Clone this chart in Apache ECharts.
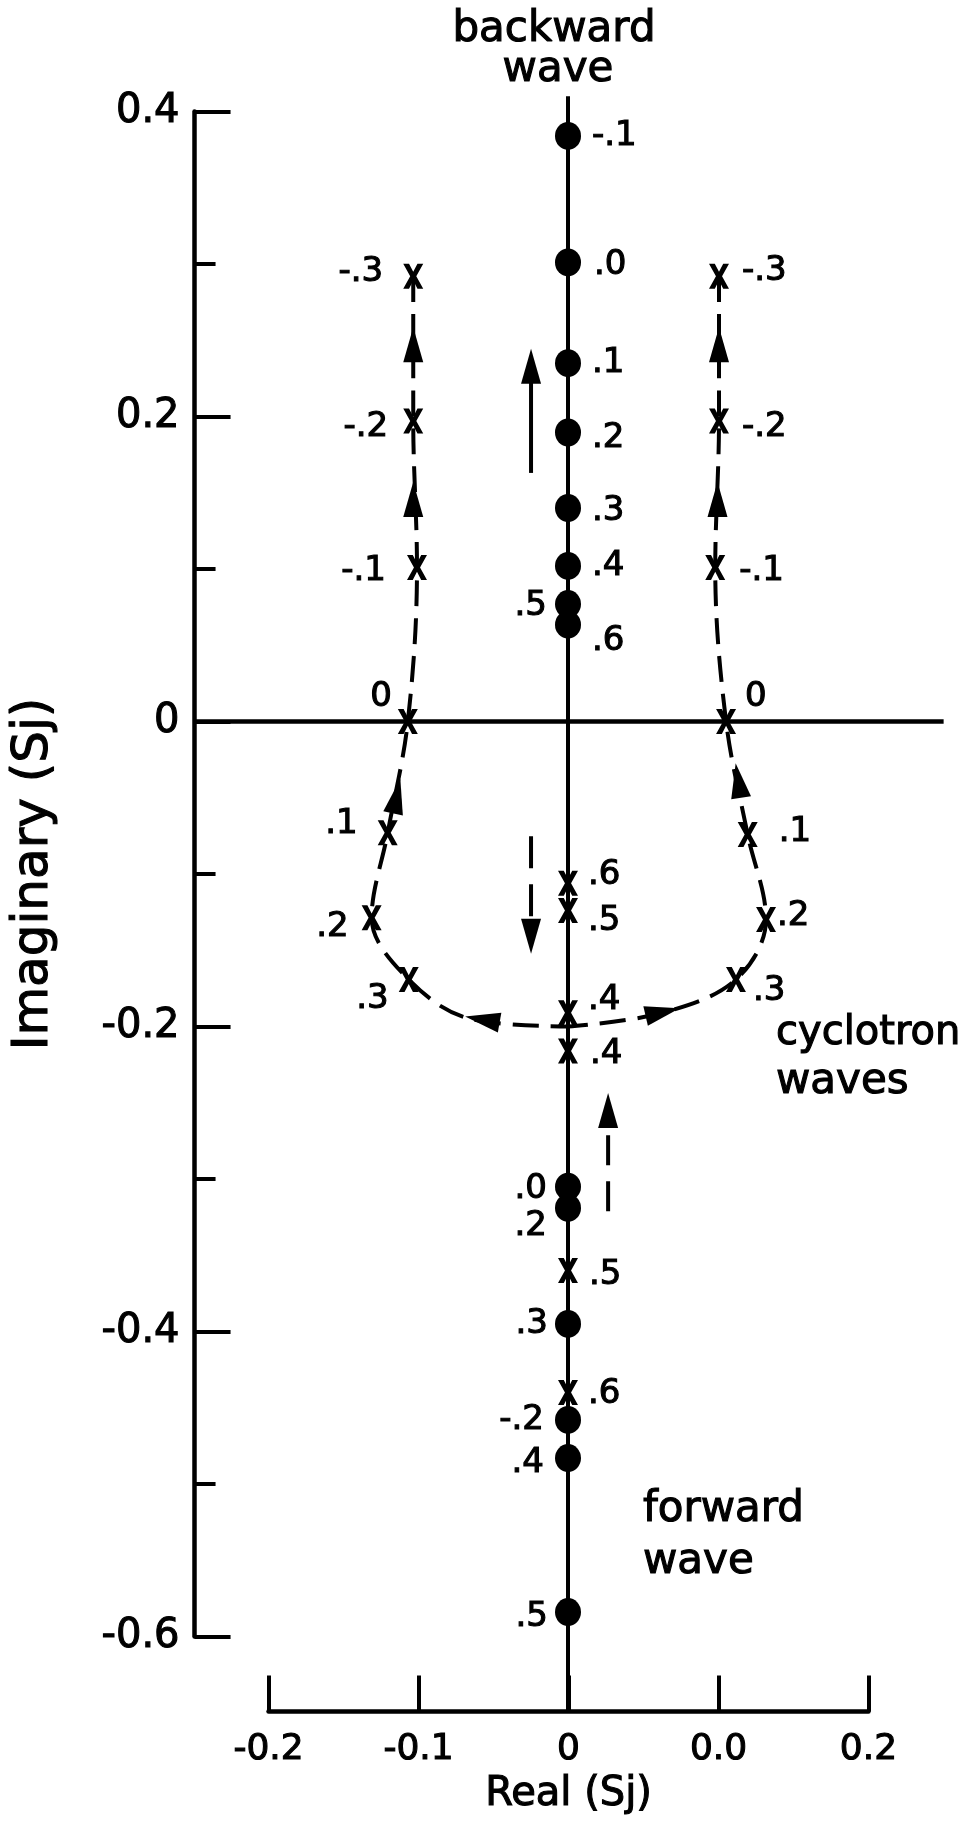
<!DOCTYPE html>
<html>
<head>
<meta charset="utf-8">
<title>Root loci: backward, forward and cyclotron waves</title>
<script src="https://cdn.jsdelivr.net/npm/echarts@6/dist/echarts.min.js"></script>
<style>
html, body { margin: 0; padding: 0; background: #fff; }
#main { width: 966px; height: 1821px; }
</style>
</head>
<body>
<div id="main"></div>
<script>
// tick labels as printed on the figure
const xTickLabels = ['-0.2', '-0.1', '0', '0.0', '0.2'];
const yTickLabels = ['-0.6', '-0.4', '-0.2', '0', '0.2', '0.4'];

// backward wave roots (dots on the imaginary axis)
const backY = [0.384, 0.301, 0.235, 0.1895, 0.140, 0.102, 0.077, 0.0635];
const backText = ['-.1', '.0', '.1', '.2', '.3', '.4', '.5', '.6'];

// forward wave roots (dots)
const fwdY = [-0.305, -0.319, -0.395, -0.458, -0.483, -0.584];
const fwdText = ['.0', '.2', '.3', '-.2', '.4', '.5'];

// cyclotron roots lying on the imaginary axis (x marks)
const axisCrossY = [-0.106, -0.124, -0.191, -0.216, -0.360, -0.440];
const axisCrossText = ['.6', '.5', '.4', '.4', '.5', '.6'];

// cyclotron roots, left branch
const leftX = [-0.103, -0.103, -0.1005, -0.1066, -0.120, -0.1307, -0.106];
const leftY = [0.292, 0.197, 0.101, 0, -0.073, -0.1287, -0.1692];
const leftText = ['-.3', '-.2', '-.1', '0', '.1', '.2', '.3'];
// where the left branch runs into the axis
const leftTailX = [-0.065, 0];
const leftTailY = [-0.195, -0.2];

// cyclotron roots, right branch
const rightX = [0.1005, 0.1005, 0.098, 0.1052, 0.1196, 0.1318, 0.1118];
const rightY = [0.292, 0.197, 0.101, 0, -0.0741, -0.1298, -0.1692];
const rightText = ['-.3', '-.2', '-.1', '0', '.1', '.2', '.3'];
const rightTailX = [0.063, 0];
const rightTailY = [-0.191, -0.2];

// arrowheads along the dashed branches
const leftHeadX = [-0.103, -0.103, -0.114, -0.057];
const leftHeadY = [0.247, 0.1455, -0.049, -0.1955];
const rightHeadX = [0.1005, 0.0995, 0.1134, 0.063];
const rightHeadY = [0.247, 0.1455, -0.0387, -0.1906];

// free arrows beside the axis: [x, tail y, head y]
const upArrow = [-0.0246, 0.163, 0.233];
const downArrow = [-0.0246, -0.0752, -0.1408];
const upArrow2 = [0.0267, -0.3211, -0.2551];

// reference lines
const zeroLineX = [-0.249, 0.25];
const imagAxisY = [0.41, -0.649];

// ---- layout and styling (not data) ----
const ink = '#000';
const font = 'DejaVu Sans';
const crossPath = 'path://M0,0 L5.5,0 L9.5,7.5 L13.5,0 L19,0 L12.4,11.5 L19,23 L13.5,23 L9.5,15.5 L5.5,23 L0,23 L6.6,11.5 Z';
// thicken the strokes of the lettering a little
const heavy = { textBorderColor: ink, textBorderWidth: 1.1 };

// pixel scale of the figure: x = 0 at 568 px, y = 0 at 721.5 px
const X0 = 568, Y0 = 721.5, PX_X = 1502.5, PX_Y = 1525, W = 966, H = 1821;
function gridFor(xmin, xmax, ymin, ymax) {
  return {
    left: X0 + xmin * PX_X,
    right: W - (X0 + xmax * PX_X),
    top: Y0 - ymax * PX_Y,
    bottom: H - (Y0 - ymin * PX_Y)
  };
}
const DATA_X = [-0.26, 0.26], DATA_Y = [-0.66, 0.42];

// label placement: [side, distance, dy]
const backPlace = [['right',11,0],['right',13,3],['right',11,0],['right',11,6],['right',11,3],['right',11,0],['left',8,2],['right',11,17]];
const fwdPlace = [['left',8,3],['left',8,18],['left',7,0],['left',11,0],['left',11,5],['left',7,5]];
const axisCrossPlace = [['right',10,-8],['right',10,11],['right',10,-13],['right',12,3],['right',11,5],['right',10,2]];
const leftPlace = [['left',20,-4],['left',15,6],['left',21,4],['left',6,-24],['left',20,-9],['left',13,9],['left',10,20]];
const rightPlace = [['right',13,-5],['right',13,6],['right',14,4],['right',9,-24],['right',21,-2],['right',1,-3],['right',7,12]];
const leftHeadRot = [0, 0, -12, 80];
const rightHeadRot = [0, 0, 9, -77];

function pairs(xs, ys) { return xs.map((x, i) => [x, ys[i]]); }

function labelled(points, texts, place) {
  return points.map((p, i) => ({
    value: p,
    label: {
      show: true,
      formatter: texts[i],
      position: place[i][0],
      distance: 0,
      offset: [place[i][0] === 'left' ? -place[i][1] : place[i][1], place[i][2]]
    }
  }));
}

const pointLabel = { show: true, fontSize: 34, fontFamily: font, color: ink, opacity: 1, ...heavy };
const solid = { color: ink, opacity: 1 };

const leftCurve = pairs(leftX, leftY).concat(pairs(leftTailX, leftTailY));
const rightCurve = pairs(rightX, rightY).concat(pairs(rightTailX, rightTailY));

const heads = pairs(leftHeadX, leftHeadY).map((p, i) => ({ value: p, symbolRotate: leftHeadRot[i] }))
  .concat(pairs(rightHeadX, rightHeadY).map((p, i) => ({ value: p, symbolRotate: rightHeadRot[i] })));

function shaft(a) { return [[a[0], a[1]], [a[0], a[2]]]; }

function note(text, x, y, size, align) {
  return { type: 'text', x: x, y: y, style: { text: text, fontSize: size, fontFamily: font, fill: ink,
    stroke: ink, lineWidth: 1.1, align: align, verticalAlign: 'middle' } };
}

const onData = { xAxisIndex: 1, yAxisIndex: 1 };
const hiddenAxis = { show: false };

const chart = echarts.init(document.getElementById('main'), null, { renderer: 'canvas' });

chart.setOption({
  animation: false,
  backgroundColor: '#fff',
  grid: [
    gridFor(-0.2, 0.2, -0.6, 0.4),
    gridFor(DATA_X[0], DATA_X[1], DATA_Y[0], DATA_Y[1])
  ],
  xAxis: [{
    gridIndex: 0, type: 'value', min: -0.2, max: 0.2, interval: 0.1, offset: 75,
    axisLine: { onZero: false, lineStyle: { color: ink, width: 4.5 } },
    axisTick: { inside: true, length: 36, lineStyle: { color: ink, width: 4 } },
    splitLine: { show: false },
    axisLabel: {
      margin: 20, fontSize: 36, fontFamily: font, color: ink, ...heavy,
      formatter: v => xTickLabels[Math.round((v + 0.2) / 0.1)]
    },
    name: 'Real (Sj)', nameLocation: 'middle', nameGap: 63,
    nameTextStyle: { fontSize: 40, fontFamily: font, color: ink, ...heavy }
  }, {
    gridIndex: 1, type: 'value', min: DATA_X[0], max: DATA_X[1], ...hiddenAxis
  }],
  yAxis: [{
    gridIndex: 0, type: 'value', min: -0.6, max: 0.4, interval: 0.2, offset: 74,
    axisLine: { show: true, onZero: false, lineStyle: { color: ink, width: 4.5 } },
    axisTick: { show: true, inside: true, length: 36, lineStyle: { color: ink, width: 4 } },
    minorTick: { show: true, splitNumber: 2, length: 21, lineStyle: { color: ink, width: 4 } },
    splitLine: { show: false },
    axisLabel: {
      margin: 15, fontSize: 40, fontFamily: font, color: ink, ...heavy,
      formatter: v => yTickLabels[Math.round((v + 0.6) / 0.2)]
    },
    name: 'Imaginary (Sj)', nameLocation: 'middle', nameGap: 136,
    nameTextStyle: { fontSize: 50, fontFamily: font, color: ink, ...heavy }
  }, {
    gridIndex: 1, type: 'value', min: DATA_Y[0], max: DATA_Y[1], ...hiddenAxis
  }],
  graphic: [
    note('backward', 554, 30, 42, 'center'),
    note('wave', 558, 70, 42, 'center'),
    note('cyclotron', 776, 1034, 40, 'left'),
    note('waves', 776, 1082, 42, 'left'),
    note('forward', 643, 1510, 42, 'left'),
    note('wave', 643, 1562, 42, 'left')
  ],
  series: [
    // real = 0 reference line
    { type: 'line', ...onData, data: zeroLineX.map(x => [x, 0]), symbol: 'none', silent: true, z: 1,
      lineStyle: { color: ink, width: 4.5 } },
    // imaginary axis through the roots
    { type: 'line', ...onData, data: imagAxisY.map(y => [0, y]), symbol: 'none', silent: true, z: 1,
      lineStyle: { color: ink, width: 4 } },
    // dashed cyclotron branches
    { type: 'line', ...onData, data: leftCurve, smooth: 0.35, symbol: 'none', z: 2,
      lineStyle: { color: ink, width: 4, type: [26, 12] } },
    { type: 'line', ...onData, data: rightCurve, smooth: 0.35, symbol: 'none', z: 2,
      lineStyle: { color: ink, width: 4, type: [26, 12] } },
    // free arrows (shafts)
    { type: 'line', ...onData, data: shaft(upArrow), symbol: 'none', z: 2, lineStyle: { color: ink, width: 4 } },
    { type: 'line', ...onData, data: shaft(downArrow), symbol: 'none', z: 2, lineStyle: { color: ink, width: 4, type: [32, 16] } },
    { type: 'line', ...onData, data: shaft(upArrow2), symbol: 'none', z: 2, lineStyle: { color: ink, width: 4, type: [30, 16] } },
    // arrowheads
    { type: 'scatter', ...onData, symbol: 'triangle', symbolSize: [20, 35], z: 3,
      itemStyle: solid,
      data: heads.concat([
        { value: [upArrow[0], upArrow[2]], symbolRotate: 0 },
        { value: [downArrow[0], downArrow[2]], symbolRotate: 180 },
        { value: [upArrow2[0], upArrow2[2]], symbolRotate: 0 }
      ]) },
    // dots: backward and forward waves
    { type: 'scatter', ...onData, symbol: 'circle', symbolSize: [26, 28], z: 4, itemStyle: solid, label: pointLabel,
      data: labelled(backY.map(y => [0, y]), backText, backPlace) },
    { type: 'scatter', ...onData, symbol: 'circle', symbolSize: [26, 28], z: 4, itemStyle: solid, label: pointLabel,
      data: labelled(fwdY.map(y => [0, y]), fwdText, fwdPlace) },
    // x marks: cyclotron roots
    { type: 'scatter', ...onData, symbol: crossPath, symbolSize: [20, 25], z: 4, itemStyle: solid, label: pointLabel,
      data: labelled(axisCrossY.map(y => [0, y]), axisCrossText, axisCrossPlace) },
    { type: 'scatter', ...onData, symbol: crossPath, symbolSize: [20, 25], z: 4, itemStyle: solid, label: pointLabel,
      data: labelled(pairs(leftX, leftY), leftText, leftPlace) },
    { type: 'scatter', ...onData, symbol: crossPath, symbolSize: [20, 25], z: 4, itemStyle: solid, label: pointLabel,
      data: labelled(pairs(rightX, rightY), rightText, rightPlace) }
  ]
});
</script>
</body>
</html>
